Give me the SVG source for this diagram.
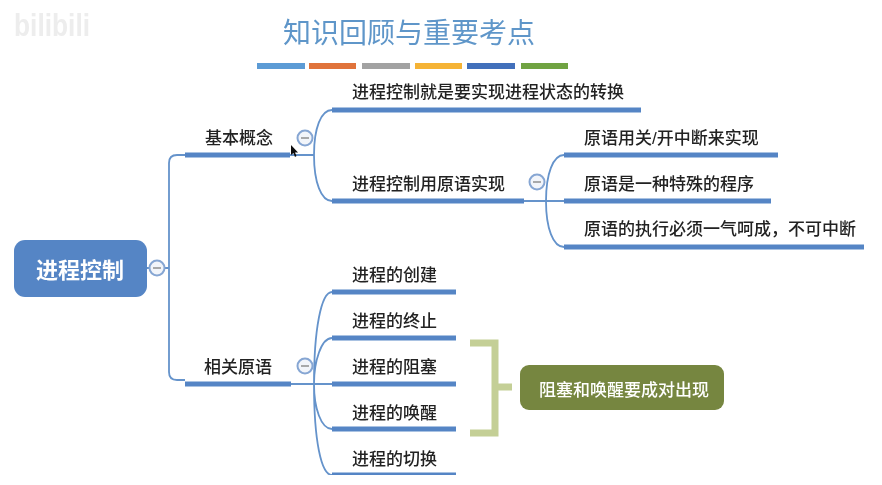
<svg xmlns="http://www.w3.org/2000/svg" width="882" height="485" viewBox="0 0 882 485">
<defs><filter id="soft" x="0" y="0" width="100%" height="100%"><feGaussianBlur stdDeviation="0.45"/></filter></defs>
<style>
text{font-family:"Liberation Sans","Noto Sans CJK SC",sans-serif;fill:#222;font-size:17px;font-weight:500}
.bar{stroke:#5585c5;stroke-width:5;fill:none}
.thin{stroke:#6593cb;stroke-width:1.8;fill:none}
.toggle circle{fill:#f2f5fa;stroke:#86a6d3;stroke-width:2}
.toggle line{stroke:#8f8f8f;stroke-width:1.5}
.w{fill:#fff;font-weight:bold}
</style>
<rect width="882" height="485" fill="#fff"/>
<g filter="url(#soft)">
<text id="watermark" x="14" y="36" style="font-size:32px;font-weight:bold;fill:#ededed" textLength="76" lengthAdjust="spacingAndGlyphs">bilibili</text>
<g id="title"><text x="283" y="43" style="font-size:28px;font-weight:400;fill:#5f96c9">知识回顾与重要考点</text></g>
<g id="title-bars">
<rect x="257" y="63" width="48" height="6" fill="#5b9bd5"/>
<rect x="309" y="63" width="47" height="6" fill="#e0733a"/>
<rect x="362" y="63" width="48" height="6" fill="#a2a2a2"/>
<rect x="415" y="63" width="47" height="6" fill="#f5b335"/>
<rect x="467" y="63" width="48" height="6" fill="#4270bb"/>
<rect x="521" y="63" width="47" height="6" fill="#70a342"/>
</g>
<g id="connectors">
<path class="thin" d="M147 268H169M185 155H177Q169 155 169 163V372Q169 380 177 380H185"/>
<path class="thin" d="M290 155H314M314 155C314 128 321 110 332 110M314 155C314 182 321 201 332 201"/>
<path class="thin" d="M524 201H564M546 201C546 174 553 155 564 155M546 201C546 228 553 247 564 247"/>
<path class="thin" d="M291 384H332M314 384C314 330 321 292 332 292M314 384C314 362 321 338 332 338M314 384C314 408 321 429 332 429M314 384C314 440 321 475 332 475"/>
</g>
<g id="root"><rect x="14" y="240" width="133" height="57" rx="11" fill="#5585c5"/><text class="w" x="80" y="278" text-anchor="middle" style="font-size:22px">进程控制</text></g>
<g id="n-basic"><path class="bar" d="M185 155H290"/><text x="205" y="144">基本概念</text></g>
<g id="n-prim"><path class="bar" d="M185 384H291"/><text x="204" y="373">相关原语</text></g>
<g id="n-a"><path class="bar" d="M332 110H641"/><text x="352" y="98">进程控制就是要实现进程状态的转换</text></g>
<g id="n-b"><path class="bar" d="M332 201H524"/><text x="352" y="190">进程控制用原语实现</text></g>
<g id="n-b1"><path class="bar" d="M564 155H778"/><text x="584" y="144">原语用关/开中断来实现</text></g>
<g id="n-b2"><path class="bar" d="M564 201H771"/><text x="584" y="190">原语是一种特殊的程序</text></g>
<g id="n-b3"><path class="bar" d="M564 247H864"/><text x="584" y="235">原语的执行必须一气呵成，不可中断</text></g>
<g id="n-c1"><path class="bar" d="M332 292H456"/><text x="352" y="281">进程的创建</text></g>
<g id="n-c2"><path class="bar" d="M332 338H456"/><text x="352" y="327">进程的终止</text></g>
<g id="n-c3"><path class="bar" d="M332 384H456"/><text x="352" y="373">进程的阻塞</text></g>
<g id="n-c4"><path class="bar" d="M332 429H456"/><text x="352" y="419">进程的唤醒</text></g>
<g id="n-c5"><path class="bar" d="M332 475H456"/><text x="352" y="465">进程的切换</text></g>
<g id="bracket"><path d="M470 343H495V433H470M495 387H512" fill="none" stroke="#c4cf96" stroke-width="7"/></g>
<g id="note"><rect x="520" y="365" width="204" height="45" rx="9" fill="#76863f"/><text x="539" y="396" style="fill:#fff">阻塞和唤醒要成对出现</text></g>
<g class="toggle" id="t1"><circle cx="157" cy="268" r="7.500"/><line x1="153" y1="268" x2="161" y2="268"/></g>
<g class="toggle" id="t2"><circle cx="305" cy="138" r="7.500"/><line x1="301" y1="138" x2="309" y2="138"/></g>
<g class="toggle" id="t3"><circle cx="537" cy="182" r="7.500"/><line x1="533" y1="182" x2="541" y2="182"/></g>
<g class="toggle" id="t4"><circle cx="305" cy="366" r="7.500"/><line x1="301" y1="366" x2="309" y2="366"/></g>
<path id="cursor" d="M291 145V155L293.500 153L295 157L296.500 156L295 152.500L298 152.500Z" fill="#111"/>
</g>
</svg>
